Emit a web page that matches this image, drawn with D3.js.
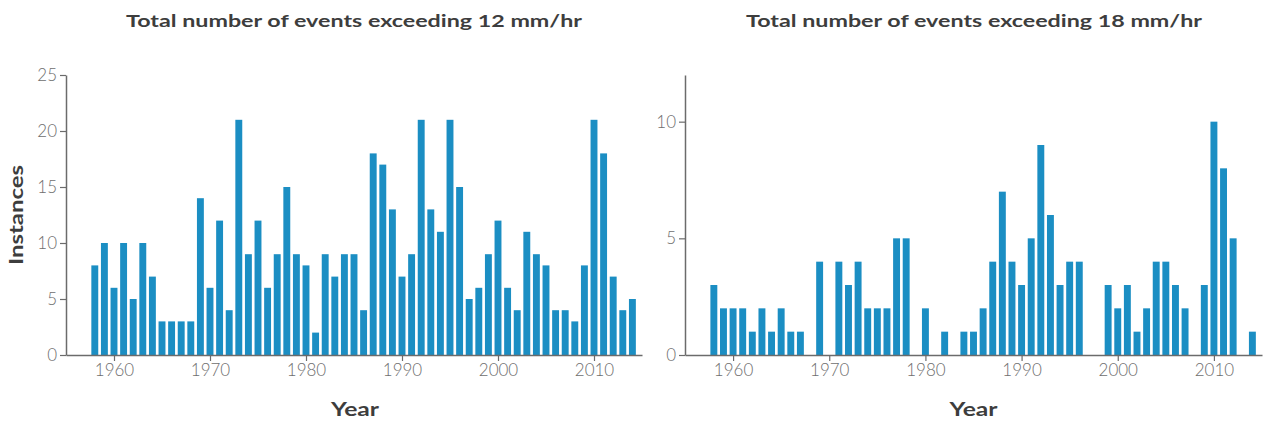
<!DOCTYPE html>
<html><head><meta charset="utf-8">
<script src="https://cdn.jsdelivr.net/npm/d3@7"></script>
<style>
body{margin:0;background:#fff;}
svg text{font-family:Lato,"Noto Sans",sans-serif;}
</style></head>
<body><svg id="c" width="1263" height="421"></svg>
<script>
const years = d3.range(1958, 2015);
const events12 = [8,10,6,10,5,10,7,3,3,3,3,14,6,12,4,21,9,12,6,9,15,9,8,2,9,7,9,9,4,18,17,13,7,9,21,13,11,21,15,5,6,9,12,6,4,11,9,8,4,4,3,8,21,18,7,4,5];
const events18 = [3,2,2,2,1,2,1,2,1,1,0,4,0,4,3,4,2,2,2,5,5,0,2,0,1,0,1,1,2,4,7,4,3,5,9,6,3,4,4,0,0,3,2,3,1,2,4,4,3,2,0,3,10,8,5,0,1];
const titles = ["Total number of events exceeding 12 mm/hr","Total number of events exceeding 18 mm/hr"];
const yMax = [25, 12];
const yTicks = [[0,5,10,15,20,25],[0,5,10]];
const xTicks = [1960,1970,1980,1990,2000,2010];
const xTitle = "Year", yTitle = "Instances";

const svg = d3.select("#c");
const panels = [
  {vals: events12, left: 66, right: 642, title: titles[0], tcx: 354, xcx: 355, ymax: yMax[0], yt: yTicks[0], showY: true},
  {vals: events18, left: 685, right: 1262, title: titles[1], tcx: 974, xcx: 973.5, ymax: yMax[1], yt: yTicks[1], showY: false}
];
const plotTop = 75, plotBottom = 355;
const barColor = "#1b8ec3";
const boldFont = "'Noto Sans', 'Open Sans', sans-serif";
panels.forEach(p => {
  const x = d3.scaleLinear().domain([1955, 2015]).range([p.left, p.right]);
  const y = d3.scaleLinear().domain([0, p.ymax]).range([plotBottom, plotTop]);
  const bw = (x(1956) - x(1955)) * 0.72;
  const g = svg.append("g");
  g.selectAll("rect").data(years.map((yr,i)=>({yr, v:p.vals[i]})).filter(d=>d.v>0))
    .join("rect")
    .attr("x", d => x(d.yr) - bw/2).attr("width", bw)
    .attr("y", d => y(d.v)).attr("height", d => y(0) - y(d.v))
    .attr("fill", barColor);
  const xa = g.append("g").attr("transform", `translate(0,${plotBottom})`)
    .call(d3.axisBottom(x).tickValues(xTicks).tickFormat(d3.format("d")).tickSizeOuter(0));
  const ya = g.append("g").attr("transform", `translate(${p.left},0)`)
    .call(d3.axisLeft(y).tickValues(p.yt).tickSizeOuter(0));
  [xa, ya].forEach(a => {
    a.select(".domain").attr("stroke", "#6b6b6b").attr("stroke-width", 1.5);
    a.selectAll(".tick line").attr("stroke", "#6b6b6b").attr("stroke-width", 1.2);
    a.selectAll(".tick text").attr("fill", "#6e6e6e").attr("font-size", 17).attr("font-weight", 300)
      .attr("font-family", "Lato, 'Noto Sans', sans-serif");
  });
  g.append("text").attr("x", p.tcx).attr("y", 27)
    .attr("text-anchor", "middle").attr("font-size", 17.5).attr("font-weight", 700)
    .attr("font-family", boldFont).attr("textLength", 456).attr("lengthAdjust", "spacingAndGlyphs")
    .attr("fill", "#3d3d3d").text(p.title);
  g.append("text").attr("x", p.xcx).attr("y", 416)
    .attr("text-anchor", "middle").attr("font-size", 19).attr("font-weight", 700)
    .attr("font-family", boldFont).attr("textLength", 48).attr("lengthAdjust", "spacingAndGlyphs")
    .attr("fill", "#3d3d3d").text(xTitle);
  if (p.showY) {
    g.append("text").attr("transform", `translate(23,215) rotate(-90)`)
      .attr("text-anchor", "middle").attr("font-size", 18).attr("font-weight", 700)
      .attr("font-family", boldFont).attr("textLength", 100).attr("lengthAdjust", "spacingAndGlyphs")
      .attr("fill", "#3d3d3d").text(yTitle);
  }
});
</script></body></html>
